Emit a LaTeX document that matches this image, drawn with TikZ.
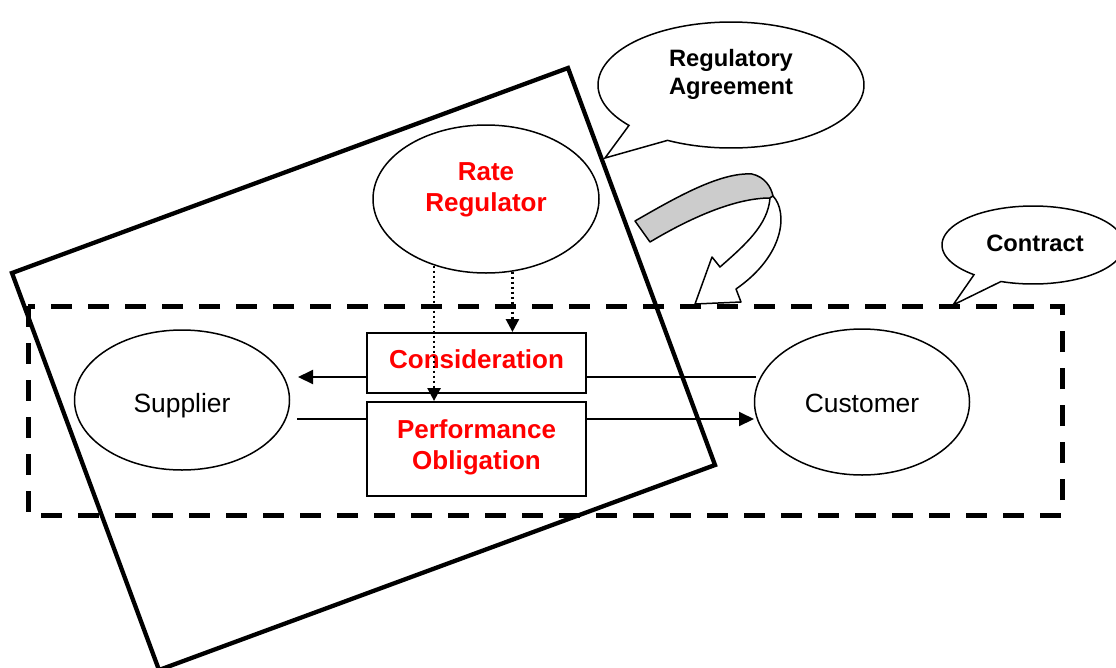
\documentclass[tikz,border=0pt]{standalone}
\usepackage{fontspec}
\setmainfont{Liberation Sans}
\usetikzlibrary{arrows.meta,shapes.geometric}
\definecolor{bandgray}{RGB}{204,204,204}
\definecolor{tred}{RGB}{255,0,0}
\begin{document}
\begin{tikzpicture}[x=1pt,y=-1pt,
  oval/.style={draw,ellipse,line width=1.5pt,inner sep=0pt,fill=white,
    font=\fontsize{26.4}{31}\selectfont},
  plaintxt/.style={inner sep=0pt,text depth=0pt,font=\fontsize{26.4}{31}\selectfont},
  flowbox/.style={draw,rectangle,line width=2pt,inner sep=0pt,align=center,
    text=tred,font=\fontsize{26}{31}\selectfont\bfseries},
  redtxt/.style={text=tred,align=center,inner sep=0pt,font=\fontsize{26}{31}\selectfont\bfseries},
  calltxt/.style={align=center,inner sep=0pt,font=\fontsize{23.7}{28}\selectfont\bfseries},
  callout/.style={draw,line width=1.5pt,fill=white,line join=miter},
  conn/.style={line width=2pt},
  arr/.style={line width=2pt,-{Triangle[length=15pt,width=14pt]}},
  dotarr/.style={line width=2.6pt,dash pattern=on 2.6pt off 2.4pt,-{Triangle[length=13pt,width=13pt]}},
  frame/.style={line width=4.3pt,line join=miter},
  contractframe/.style={line width=5pt,dash pattern=on 21pt off 16pt},
  bandline/.style={line width=1.5pt,line join=round}
]
\clip (0,0) rectangle (1116,667);
\useasboundingbox (0,0) rectangle (1116,667);

% contract boundary (dashed)
\draw[contractframe] (28,306) rectangle (1062,515);

% regulatory agreement boundary (rotated rectangle)
\draw[frame] (12,273) -- (568,68) -- (715,465) -- (159,670) -- cycle;

% nodes
\node[oval,minimum width=226pt,minimum height=148pt] (rr) at (486,199) {};
\node[redtxt] (rrtext) at (486,190) {Rate\\Regulator};
\node[oval,minimum width=215pt,minimum height=140pt] (supp) at (182,400) {};
\node[plaintxt] (supptext) at (182,403) {Supplier};
\node[oval,minimum width=215pt,minimum height=146pt] (cust) at (862,402) {};
\node[plaintxt] (custtext) at (862,403) {Customer};
\node[flowbox,minimum width=219pt,minimum height=60pt] (cons) at (476.5,363) {};
\node[redtxt] (constext) at (476.5,359) {Consideration};
\node[flowbox,minimum width=219pt,minimum height=94pt] (perf) at (476.5,449) {};
\node[redtxt] (perftext) at (476.5,447) {Performance\\Obligation};

% flow connectors
\coordinate (cA) at (756,377);
\coordinate (cB) at (298,377);
\coordinate (pA) at (297,419);
\coordinate (pB) at (754,419);
\draw[conn] (cA) -- (cons.east |- cA);
\draw[arr] (cons.west |- cA) -- (cB);
\draw[conn] (pA) -- (perf.west |- pA);
\draw[arr] (perf.east |- pA) -- (pB);

% dotted arrows from the rate regulator
\draw[dotarr] (rr.232) -- (rr.232 |- perf.north);
\draw[dotarr] (rr.290) -- (rr.290 |- cons.north);

% callouts
\draw[callout] (605,158) -- ({731+133*cos(140.1)},{85+63*sin(140.1)})
  -- plot[domain=140.1:478.5,samples=140] ({731+133*cos(\x)},{85+63*sin(\x)}) -- cycle;
\node[calltxt] (ratext) at (731,74) {Regulatory\\Agreement};
\draw[callout] (953,305) -- ({1033+91*cos(130.4)},{245+39*sin(130.4)})
  -- plot[domain=130.4:470.6,samples=140] ({1033+91*cos(\x)},{245+39*sin(\x)}) -- cycle;
\node[calltxt] (cttext) at (1035,243) {Contract};

% curved 3D arrow
\filldraw[bandline,fill=bandgray] (635,221) .. controls (675,198) and (720,172) .. (752,174)
  .. controls (765,177) and (771,187) .. (773,196) -- (770,198)
  .. controls (735,198) and (690,218) .. (650,242) -- cycle;
\filldraw[bandline,fill=white] (773,196) .. controls (788,212) and (785,255) .. (736,289)
  -- (741,302) -- (695,304) -- (712,257) -- (720,267)
  .. controls (745,245) and (768,225) .. (770,198) -- cycle;
\end{tikzpicture}
\end{document}
